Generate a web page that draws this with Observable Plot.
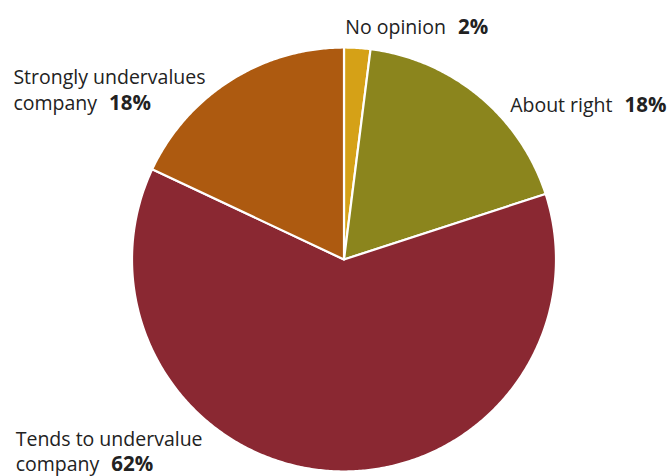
<!DOCTYPE html>
<html>
<head>
<meta charset="utf-8">
<script src="https://cdn.jsdelivr.net/npm/d3@7"></script>
<script src="https://cdn.jsdelivr.net/npm/@observablehq/plot@0.6"></script>
<style>
  html, body { margin: 0; padding: 0; background: #fff; }
  svg text { white-space: pre; }
</style>
</head>
<body>
<div id="chart"></div>
<script>
const categories = ["No opinion", "About right", "Tends to undervalue company", "Strongly undervalues company"];
const values = [2, 18, 62, 18];
const labelLines = ["No opinion", "About right", "Tends to undervalue\ncompany", "Strongly undervalues\ncompany"];
const percentLabels = ["2%", "18%", "62%", "18%"];
const colors = ["#D5A117", "#8B851D", "#8A2832", "#AD5A10"];

const rows = categories.map((c, i) => ({cat: c, value: values[i], label: labelLines[i], pct: percentLabels[i]}));
const arcs = d3.pie().sort(null).value(d => d.value)(rows);

// polygon points for each slice (angles clockwise from 12 o'clock)
const pts = [];
for (const a of arcs) {
  const cat = a.data.cat;
  pts.push({cat, x: 0, y: 0});
  const n = Math.max(2, Math.ceil((a.endAngle - a.startAngle) / (Math.PI / 360)));
  for (let k = 0; k <= n; k++) {
    const t = a.startAngle + (a.endAngle - a.startAngle) * k / n;
    pts.push({cat, x: Math.sin(t), y: Math.cos(t)});
  }
  pts.push({cat, x: 0, y: 0});
}

const offsets = [[-12, -22], [31, 8], [-315, -21], [-217, 8.5]];
const labelMarks = arcs.map((a, i) => {
  const mid = (a.startAngle + a.endAngle) / 2;
  const d = {x: Math.sin(mid), y: Math.cos(mid), text: a.data.label + "  " + a.data.pct};
  return Plot.text([d], {
    x: "x", y: "y", text: "text",
    dx: offsets[i][0], dy: offsets[i][1],
    textAnchor: "start", lineAnchor: "middle", lineHeight: 1.3,
    fontSize: 19.5, fill: "#222", fontFamily: "Open Sans"
  });
});

const chart = Plot.plot({
  width: 670, height: 476,
  marginTop: 0, marginRight: 0, marginBottom: 0, marginLeft: 0,
  style: {fontFamily: "Open Sans", background: "#fff"},
  x: {domain: [-1, 1], range: [131.5, 555.5], axis: null},
  y: {domain: [-1, 1], range: [471, 47], axis: null},
  color: {domain: categories, range: colors},
  marks: [
    Plot.line(pts, {x: "x", y: "y", z: "cat", fill: "cat", stroke: "white", strokeWidth: 2.2, curve: "linear"}),
    ...labelMarks
  ]
});

const svgns = "http://www.w3.org/2000/svg";
chart.querySelectorAll("text").forEach(t => {
  const spans = t.querySelectorAll("tspan");
  const target = spans.length ? spans[spans.length - 1] : t;
  const s = target.textContent;
  const m = s.match(/^(.*?)\s*(\d+%)$/);
  if (m) {
    target.textContent = m[1];
    const b = document.createElementNS(svgns, "tspan");
    b.setAttribute("font-weight", "bold");
    b.setAttribute("font-size", "20.5");
    b.setAttribute("dx", "12");
    b.textContent = m[2];
    target.appendChild(b);
  }
});

document.getElementById("chart").appendChild(chart);
</script>
</body>
</html>
